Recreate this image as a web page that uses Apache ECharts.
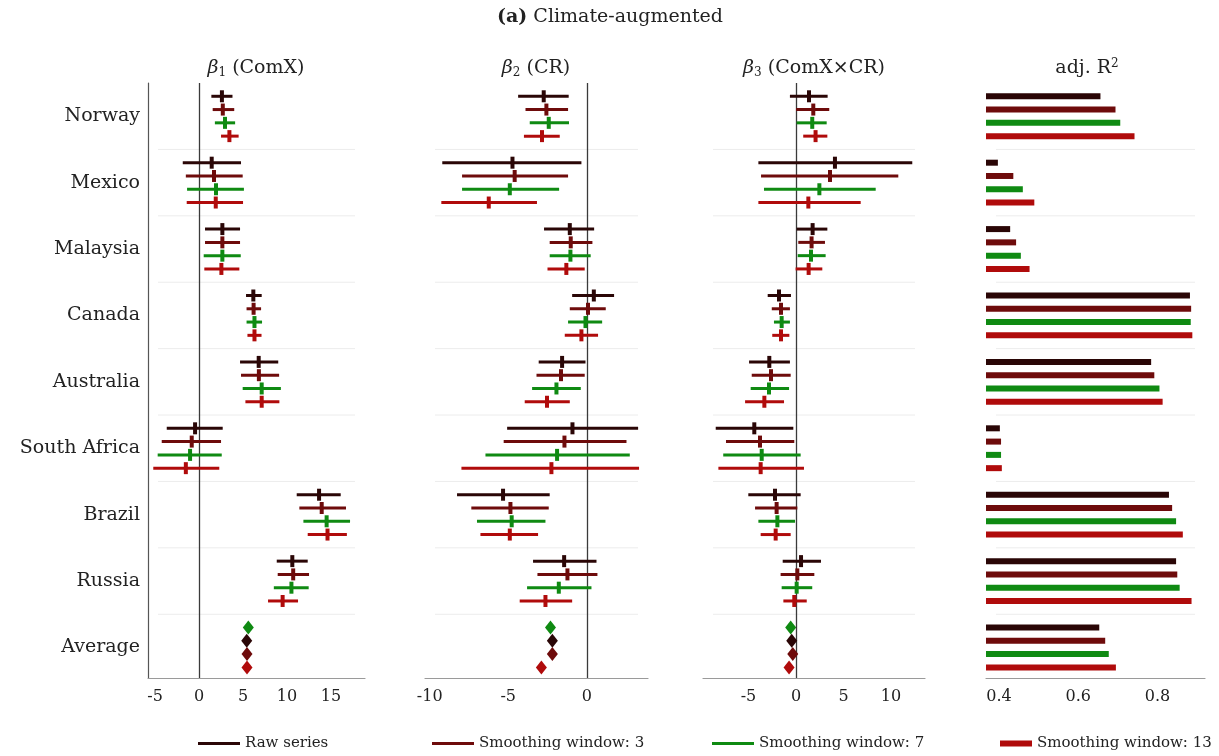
<!DOCTYPE html>
<html>
<head>
<meta charset="utf-8">
<script src="https://cdn.jsdelivr.net/npm/echarts@6/dist/echarts.min.js"></script>
<style>
html,body{margin:0;padding:0;background:#fff;}
#main{width:1219px;height:756px;}
</style>
</head>
<body>
<div id="main"></div>
<script>
var countries = ['Norway','Mexico','Malaysia','Canada','Australia','South Africa','Brazil','Russia','Average'];
var variants = ['Raw series','Smoothing window: 3','Smoothing window: 7','Smoothing window: 13'];
var colors = ['#2a0606','#6e0b0b','#0f8a12','#b00b0b'];

// beta1 (ComX): [estimate, lower, upper] per country
var b1_raw = [[2.6,1.4,3.8],[1.44,-1.85,4.77],[2.65,0.68,4.66],[6.17,5.34,7.12],[6.78,4.66,9.0],[-0.45,-3.67,2.69],[13.64,11.1,16.1],[10.6,8.83,12.35]];
var b1_w3  = [[2.7,1.55,4.0],[1.7,-1.5,4.96],[2.65,0.68,4.66],[6.2,5.4,7.05],[6.8,4.77,9.1],[-0.83,-4.24,2.5],[13.94,11.4,16.7],[10.7,8.94,12.5]];
var b1_w7  = [[2.95,1.8,4.1],[1.93,-1.36,5.1],[2.65,0.53,4.74],[6.3,5.4,7.16],[7.12,4.96,9.3],[-1.02,-4.7,2.58],[14.5,11.86,17.16],[10.5,8.5,12.46]];
var b1_w13 = [[3.45,2.5,4.5],[1.9,-1.4,5.0],[2.54,0.6,4.58],[6.3,5.5,7.1],[7.12,5.27,9.13],[-1.5,-5.2,2.3],[14.6,12.35,16.8],[9.5,7.84,11.25]];
var b1_avg = [5.42,5.45,5.6,5.45];

// beta2 (CR)
var b2_raw = [[-2.74,-4.37,-1.15],[-4.73,-9.2,-0.34],[-1.08,-2.72,0.47],[0.45,-0.93,1.74],[-1.57,-3.06,-0.08],[-0.91,-5.07,3.27],[-5.33,-8.26,-2.36],[-1.44,-3.42,0.62]];
var b2_w3  = [[-2.57,-3.9,-1.19],[-4.59,-7.94,-1.19],[-1.02,-2.36,0.36],[0.08,-1.08,1.21],[-1.64,-3.2,-0.13],[-1.42,-5.29,2.53],[-4.86,-7.35,-2.42],[-1.23,-3.14,0.68]];
var b2_w7  = [[-2.42,-3.63,-1.13],[-4.9,-7.94,-1.76],[-1.04,-2.36,0.25],[-0.08,-1.19,0.98],[-1.93,-3.48,-0.38],[-1.89,-6.45,2.74],[-4.78,-6.99,-2.63],[-1.78,-3.8,0.3]];
var b2_w13 = [[-2.85,-4.0,-1.72],[-6.24,-9.26,-3.17],[-1.3,-2.5,-0.13],[-0.34,-1.4,0.72],[-2.53,-3.95,-1.08],[-2.25,-7.98,3.33],[-4.9,-6.77,-3.1],[-2.63,-4.27,-0.93]];
var b2_avg = [-2.19,-2.19,-2.31,-2.89];

// beta3 (ComX x CR)
var b3_raw = [[1.37,-0.64,3.33],[4.1,-3.96,12.24],[1.75,0.07,3.3],[-1.79,-2.98,-0.53],[-2.81,-4.94,-0.64],[-4.39,-8.45,-0.28],[-2.21,-5.02,0.49],[0.53,-1.4,2.63]];
var b3_w3  = [[1.82,0,3.5],[3.58,-3.68,10.77],[1.64,0.24,3.05],[-1.58,-2.55,-0.64],[-2.63,-4.66,-0.56],[-3.79,-7.37,-0.18],[-2.04,-4.31,0.14],[0.14,-1.62,1.93]];
var b3_w7  = [[1.71,0.07,3.23],[2.46,-3.37,8.39],[1.58,0.18,3.12],[-1.51,-2.32,-0.64],[-2.84,-4.77,-0.73],[-3.61,-7.66,0.49],[-1.96,-3.96,-0.1],[0.07,-1.51,1.71]];
var b3_w13 = [[2.06,0.76,3.3],[1.3,-3.96,6.81],[1.33,-0.04,2.77],[-1.58,-2.5,-0.7],[-3.33,-5.36,-1.26],[-3.72,-8.17,0.84],[-2.14,-3.72,-0.56],[-0.18,-1.33,1.13]];
var b3_avg = [-0.45,-0.34,-0.56,-0.73];

// adj. R2, incl. Average
var r2_raw = [0.656,0.397,0.428,0.882,0.784,0.402,0.829,0.847,0.653];
var r2_w3  = [0.694,0.436,0.443,0.885,0.792,0.405,0.837,0.85,0.668];
var r2_w7  = [0.706,0.46,0.455,0.884,0.805,0.405,0.847,0.856,0.677];
var r2_w13 = [0.742,0.489,0.477,0.888,0.813,0.407,0.864,0.886,0.695];

// order of the diamonds in the Average block (raw, w3, w7, w13)
var avgRow = [1,2,0,3];

var panelTitles = ['{i|β}{s|1} (ComX)','{i|β}{s|2} (CR)','{i|β}{s|3} (ComX×CR)','adj. R{p|2}'];
var xTicks = [[-5,0,5,10,15],[-10,-5,0],[-5,0,5,10],[0.4,0.6,0.8]];
var xRange = [[-5.8,18.86],[-10.3,3.9],[-9.79,13.58],[0.367,0.92]];
var grids = [{left:148,width:217},{left:425,width:223},{left:703,width:222},{left:986,width:219}];

var FONT = 'DejaVu Serif';
var yMin = -1, yMax = 43.8;
function rowOf(g,s){ return g*5+s; }

var chart = echarts.init(document.getElementById('main'));

function errRender(params, api){
	var y = api.value(3);
	var lo = api.coord([api.value(1), y]);
	var hi = api.coord([api.value(2), y]);
	var c = api.coord([api.value(0), y]);
	var col = api.visual('color');
	return {type:'group', children:[
		{type:'line', shape:{x1:lo[0],y1:lo[1],x2:hi[0],y2:hi[1]}, style:{stroke:col,lineWidth:3}},
		{type:'rect', shape:{x:c[0]-2,y:c[1]-6,width:4,height:12}, style:{fill:col}}
	]};
}
function barRender(params, api){
	var y = api.value(1);
	var a = api.coord([xRange[3][0], y]);
	var b = api.coord([api.value(0), y]);
	return {type:'rect', shape:{x:a[0],y:a[1]-3,width:b[0]-a[0],height:6}, style:{fill:api.visual('color')}};
}
function sepRender(params, api){
	var cs = params.coordSys;
	var p = api.coord([0, api.value(0)]);
	return {type:'line', shape:{x1:cs.x+10,y1:p[1],x2:cs.x+cs.width-10,y2:p[1]}, style:{stroke:'#ececec',lineWidth:1}, silent:true};
}

var gridOpt = [], xAxes = [], yAxes = [], series = [];
grids.forEach(function(g,i){
	gridOpt.push({left:g.left, width:g.width, top:83, height:595});
	xAxes.push({
		type:'value', gridIndex:i, min:xRange[i][0], max:xRange[i][1], position:'bottom',
		axisLine:{show:true, onZero:false, lineStyle:{color:'#9a9a9a', width:1.2}},
		axisTick:{show:false}, splitLine:{show:false},
		axisLabel:{customValues:xTicks[i], color:'#222', fontFamily:FONT, fontSize:16, margin:11}
	});
	yAxes.push({
		type:'value', gridIndex:i, inverse:true, min:yMin, max:yMax, position:'left',
		axisLine:{show:i===0, onZero:false, lineStyle:{color:'#555', width:1.2}},
		axisTick:{show:false}, splitLine:{show:false},
		axisLabel:{show:i===0, customValues:countries.map(function(c,k){return rowOf(k,1.5);}),
			formatter:function(v){ return countries[Math.round((v-1.5)/5)]; },
			color:'#222', fontFamily:FONT, fontSize:19, margin:8}
	});
	// faint separators between groups
	series.push({type:'custom', xAxisIndex:i, yAxisIndex:i, silent:true, z:1,
		renderItem:sepRender, encode:{y:0},
		data:countries.slice(1).map(function(c,k){return [rowOf(k+1,-1)];})});
});

var coefSets = [[b1_raw,b1_w3,b1_w7,b1_w13],[b2_raw,b2_w3,b2_w7,b2_w13],[b3_raw,b3_w3,b3_w7,b3_w13]];
var avgSets = [b1_avg,b2_avg,b3_avg];
var r2Sets = [r2_raw,r2_w3,r2_w7,r2_w13];

coefSets.forEach(function(set,p){
	set.forEach(function(arr,v){
		var s = {
			type:'custom', name:variants[v], xAxisIndex:p, yAxisIndex:p, z:3,
			itemStyle:{color:colors[v]}, renderItem:errRender,
			encode:{x:[0,1,2], y:3},
			data:arr.map(function(d,g){ return [d[0],d[1],d[2],rowOf(g,v)]; })
		};
		if(v===0){
			s.markLine = {silent:true, symbol:'none', label:{show:false}, z:2,
				lineStyle:{color:'#3a3a3a', width:1.3, type:'solid'}, data:[{xAxis:0}]};
		}
		series.push(s);
		series.push({
			type:'scatter', name:variants[v], xAxisIndex:p, yAxisIndex:p, z:4,
			symbol:'diamond', symbolSize:[11,14], itemStyle:{color:colors[v], opacity:1},
			data:[[avgSets[p][v], rowOf(8, avgRow[v])]]
		});
	});
});
r2Sets.forEach(function(arr,v){
	series.push({
		type:'custom', name:variants[v], xAxisIndex:3, yAxisIndex:3, z:3,
		itemStyle:{color:colors[v]}, renderItem:barRender,
		encode:{x:0, y:1},
		data:arr.map(function(d,g){ return [d, rowOf(g,v)]; })
	});
});

var legendLeft = [193,427,707,995];
var legends = variants.map(function(name,v){
	return {left:legendLeft[v], top:731, itemWidth:v===3?32:42, itemHeight:v===3?6:3,
		selectedMode:false,
		data:[{name:name, icon:'rect'}],
		textStyle:{fontFamily:FONT, fontSize:15, color:'#222'}};
});

var subRich = {
	i:{fontFamily:FONT, fontSize:19, fontStyle:'italic', color:'#222'},
	s:{fontFamily:FONT, fontSize:12, color:'#222', padding:[9,0,0,0]},
	p:{fontFamily:FONT, fontSize:12, color:'#222', padding:[0,0,9,0]}
};
var titleCenters = [256,536,814,1087];
var graphics = panelTitles.map(function(t,i){
	return {type:'text', x:titleCenters[i], y:68, style:{text:t, rich:subRich,
		fontFamily:FONT, fontSize:19, fill:'#222', align:'center', verticalAlign:'middle'}};
});
graphics.push({type:'text', x:610, y:17, style:{text:'{b|(a)} Climate-augmented',
	rich:{b:{fontFamily:FONT, fontSize:19, fontWeight:'bold', fill:'#222'}},
	fontFamily:FONT, fontSize:19, fill:'#222', align:'center', verticalAlign:'middle'}});

chart.setOption({
	backgroundColor:'#fff',
	animation:false,
	grid:gridOpt, xAxis:xAxes, yAxis:yAxes,
	legend:legends,
	graphic:graphics,
	series:series
});
</script>
</body>
</html>
